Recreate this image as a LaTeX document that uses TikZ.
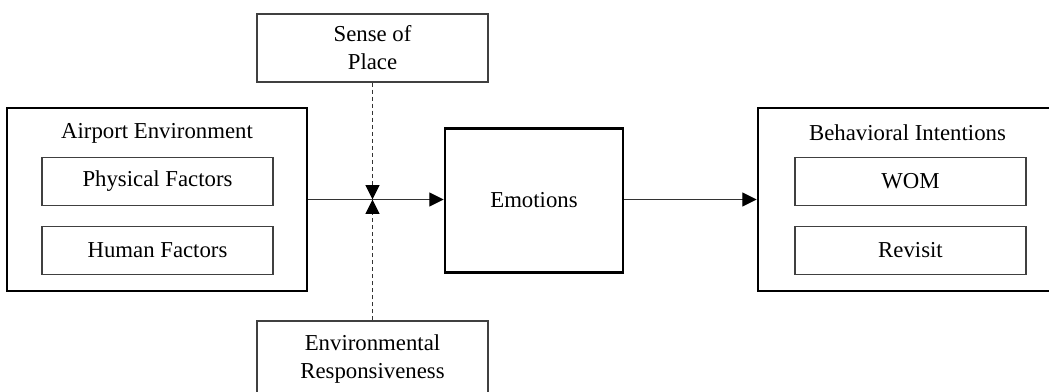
\documentclass[tikz,border=0pt]{standalone}
\usepackage{fontspec}
\setmainfont{Liberation Serif}
\usetikzlibrary{arrows.meta}

\begin{document}
\begin{tikzpicture}[x=0.025cm, y=-0.025cm,
  font=\fontsize{16.2}{20}\selectfont,
  outerbox/.style={draw=black, line width=1.8pt, inner sep=0pt,
    minimum width=7.5cm, minimum height=4.575cm},
  innerbox/.style={draw=black!75, line width=0.8pt, inner sep=0pt,
    minimum width=5.775cm, minimum height=1.2cm},
  modbox/.style={draw=black!75, line width=0.8pt, inner sep=0pt, align=center,
    minimum width=5.775cm},
  link/.style={draw=black!80, line width=0.8pt,
    -{Triangle[length=3.6mm, width=3.5mm, black]}},
  modlink/.style={link, dash pattern=on 3pt off 2pt}]

\useasboundingbox ( 0, 0 ) rectangle ( 1049, 392 );

% Airport environment
\node [outerbox] (aenv) at ( 157, 199.5 ) {};
\node (aenvtitle) at ( 157, 133 ) {Airport Environment};
\node [innerbox] (phys) at ( 157.5, 181.5 ) {Physical Factors};
\node [innerbox] (human) at ( 157.5, 250.5 ) {Human Factors};

% Emotions
\node [draw=black, line width=1.8pt, minimum width=4.45cm, minimum height=3.6cm]
  (emo) at ( 534, 200.5 ) {Emotions};

% Behavioral intentions
\node [outerbox] (bint) at ( 908, 199.5 ) {};
\node (binttitle) at ( 907.5, 133 ) {Behavioral Intentions};
\node [innerbox] (wom) at ( 910.5, 181.5 ) {WOM};
\node [innerbox] (revisit) at ( 910.5, 250.5 ) {Revisit};

% Moderators
\node [modbox, minimum height=1.7cm] (sop) at ( 372.5, 48 ) {Sense of\\Place};
\node [modbox, minimum height=1.9cm] (env) at ( 372.5, 359 )
  {Environmental\\Responsiveness};
\coordinate (meet) at ( 372.5, 199.5 );

% Links
\draw [link] (aenv) -- (aenv -| emo.west);
\draw [link] (emo.east |- bint) -- (bint);
\draw [modlink] (sop) -- (meet);
\draw [modlink] (env) -- (meet);

\end{tikzpicture}
\end{document}
